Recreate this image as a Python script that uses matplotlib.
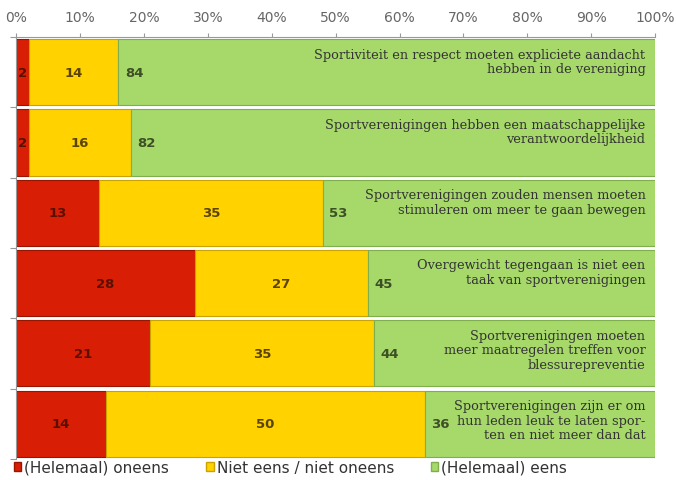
import numpy as np
import matplotlib
matplotlib.use("Agg")
import matplotlib.pyplot as plt
from matplotlib.patches import Patch

statements = [
    "Sportiviteit en respect moeten expliciete aandacht\nhebben in de vereniging",
    "Sportverenigingen hebben een maatschappelijke\nverantwoordelijkheid",
    "Sportverenigingen zouden mensen moeten\nstimuleren om meer te gaan bewegen",
    "Overgewicht tegengaan is niet een\ntaak van sportverenigingen",
    "Sportverenigingen moeten\nmeer maatregelen treffen voor\nblessurepreventie",
    "Sportverenigingen zijn er om\nhun leden leuk te laten spor-\nten en niet meer dan dat",
]
oneens = [2, 2, 13, 28, 21, 14]
neutraal = [14, 16, 35, 27, 35, 50]
eens = [84, 82, 53, 45, 44, 36]
series_names = ["(Helemaal) oneens", "Niet eens / niet oneens", "(Helemaal) eens"]
colors = ["#d81e05", "#ffd200", "#a6d96a"]
edges = ["#9a1500", "#c9a400", "#7fae4c"]

fig = plt.figure(figsize=(6.76, 4.81), dpi=100)
ax = fig.add_axes([0.024, 0.044, 0.945, 0.877])

y = np.arange(len(statements))
h = 0.94
left = np.zeros(len(statements))
for vals, c, ec in zip([oneens, neutraal, eens], colors, edges):
    ax.barh(y, vals, left=left, height=h, color=c, edgecolor=ec, linewidth=0.8)
    left = left + np.array(vals)

for i in range(len(statements)):
    r, n, g = oneens[i], neutraal[i], eens[i]
    ax.text(r / 2, y[i], str(r), ha="center", va="center", fontsize=9.5,
            fontweight="bold", color="#5a1000")
    ax.text(r + n / 2, y[i], str(n), ha="center", va="center", fontsize=9.5,
            fontweight="bold", color="#5a4400")
    ax.text(r + n + 1.0, y[i], str(g), ha="left", va="center", fontsize=9.5,
            fontweight="bold", color="#3d4f25")
    ax.text(98.5, y[i] - h / 2 + 0.12, statements[i], ha="right", va="top",
            fontsize=9.3, family="DejaVu Serif", color="#333333", linespacing=1.15)

ax.set_xlim(0, 100)
ax.set_ylim(len(statements) - 0.5, -0.5)
ax.xaxis.tick_top()
ax.set_xticks(np.arange(0, 101, 10))
ax.set_xticklabels([f"{v}%" for v in range(0, 101, 10)], fontsize=10, color="#666666")
ax.tick_params(axis="x", length=3, color="#999999", pad=6)
ax.set_yticks(np.arange(-0.5, len(statements), 1.0))
ax.set_yticklabels([])
ax.tick_params(axis="y", length=4, color="#999999")
for s in ["right", "bottom"]:
    ax.spines[s].set_visible(False)
for s in ["left", "top"]:
    ax.spines[s].set_color("#999999")

handles = [Patch(facecolor=c, edgecolor=ec) for c, ec in zip(colors, edges)]
fig.legend(handles, series_names, loc="lower left", bbox_to_anchor=(0.0, -0.018), ncol=3,
           frameon=False, fontsize=11, handlelength=0.5, handleheight=0.5,
           handletextpad=0.2, columnspacing=2.4, labelcolor="#333333")

fig.savefig("out.png", dpi=100)
